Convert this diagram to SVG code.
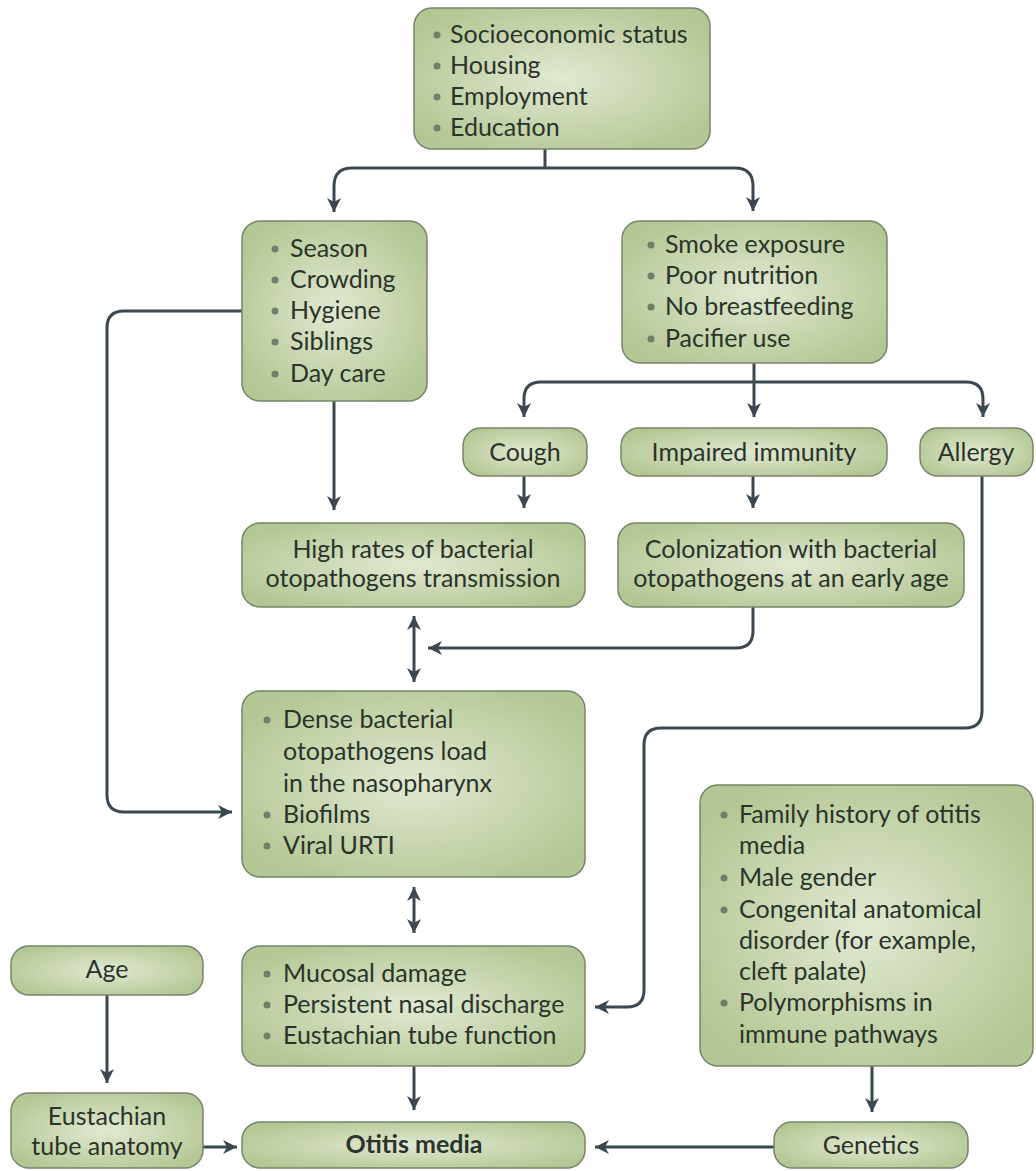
<svg xmlns="http://www.w3.org/2000/svg" width="1036" height="1171" viewBox="0 0 1036 1171">
<defs>
  <radialGradient id="g" cx="0.5" cy="0.5" r="0.6">
    <stop offset="0" stop-color="#e1e9d2"/>
    <stop offset="1" stop-color="#b4c693"/>
  </radialGradient>
  <marker id="ah" viewBox="0 0 14 14" refX="14" refY="7" markerWidth="14" markerHeight="14" markerUnits="userSpaceOnUse" orient="auto-start-reverse">
    <path d="M0,0 L14,7 L0,14 L4,7 z" fill="#3b4850"/>
  </marker>
</defs>
<style>
  .box { fill: url(#g); stroke: #74866a; stroke-width: 1.5; }
  .t { font-family: Lato, "Open Sans", "Liberation Sans", sans-serif; font-size: 25px; fill: #2a342a; }
  .c { text-anchor: middle; }
  .b { font-weight: bold; }
  .dot { fill: #6f7f69; }
  .ln { fill: none; stroke: #3b4850; stroke-width: 3; }
  .ar { marker-end: url(#ah); }
  .ar2 { marker-start: url(#ah); marker-end: url(#ah); }
</style>
<rect width="1036" height="1171" fill="#ffffff"/>

<g id="connectors">
  <path class="ln" d="M545,149 V168"/>
  <path class="ln ar" d="M545,168 H352 Q334,168 334,186 V212"/>
  <path class="ln ar" d="M545,168 H735 Q753,168 753,186 V211"/>
  <path class="ln ar" d="M754,363 V417"/>
  <path class="ln ar" d="M754,382 H541 Q524,382 524,399 V417"/>
  <path class="ln ar" d="M754,382 H966 Q983,382 983,399 V417"/>
  <path class="ln ar" d="M524,476 V508"/>
  <path class="ln ar" d="M753,476 V508"/>
  <path class="ln ar" d="M334,401 V510"/>
  <path class="ln ar2" d="M414,616 V682"/>
  <path class="ln ar" d="M753,607 V631 Q753,648 736,648 H428"/>
  <path class="ln ar" d="M242,311 H124 Q107,311 107,328 V795 Q107,812 124,812 H232"/>
  <path class="ln ar" d="M982,476 V711 Q982,728 965,728 H661 Q644,728 644,745 V990 Q644,1007 627,1007 H595"/>
  <path class="ln ar2" d="M414,887 V933"/>
  <path class="ln ar" d="M414,1066 V1110"/>
  <path class="ln ar" d="M107,995 V1083"/>
  <path class="ln ar" d="M203,1147 H237"/>
  <path class="ln ar" d="M872,1066 V1112"/>
  <path class="ln ar" d="M774,1147 H595"/>
</g>

<g id="n-socio">
  <rect class="box" x="414" y="8" width="296" height="141" rx="18"/>
  <circle class="dot" cx="437" cy="35" r="3.5"/><text class="t" x="450" y="43">Socioeconomic status</text>
  <circle class="dot" cx="437" cy="66" r="3.5"/><text class="t" x="450" y="74">Housing</text>
  <circle class="dot" cx="437" cy="97" r="3.5"/><text class="t" x="450" y="105">Employment</text>
  <circle class="dot" cx="437" cy="128" r="3.5"/><text class="t" x="450" y="136">Education</text>
</g>

<g id="n-season">
  <rect class="box" x="242" y="221" width="185" height="180" rx="18"/>
  <circle class="dot" cx="275" cy="249" r="3.5"/><text class="t" x="290" y="257">Season</text>
  <circle class="dot" cx="275" cy="280" r="3.5"/><text class="t" x="290" y="288">Crowding</text>
  <circle class="dot" cx="275" cy="311" r="3.5"/><text class="t" x="290" y="319">Hygiene</text>
  <circle class="dot" cx="275" cy="342" r="3.5"/><text class="t" x="290" y="350">Siblings</text>
  <circle class="dot" cx="275" cy="374" r="3.5"/><text class="t" x="290" y="382">Day care</text>
</g>

<g id="n-smoke">
  <rect class="box" x="622" y="221" width="265" height="142" rx="18"/>
  <circle class="dot" cx="651" cy="245" r="3.5"/><text class="t" x="665" y="253">Smoke exposure</text>
  <circle class="dot" cx="651" cy="276" r="3.5"/><text class="t" x="665" y="284">Poor nutrition</text>
  <circle class="dot" cx="651" cy="307" r="3.5"/><text class="t" x="665" y="315">No breastfeeding</text>
  <circle class="dot" cx="651" cy="339" r="3.5"/><text class="t" x="665" y="347">Pacifier use</text>
</g>

<g id="n-cough">
  <rect class="box" x="463" y="428" width="124" height="48" rx="18"/>
  <text class="t c" x="525" y="461">Cough</text>
</g>

<g id="n-immunity">
  <rect class="box" x="621" y="428" width="266" height="48" rx="18"/>
  <text class="t c" x="754" y="461">Impaired immunity</text>
</g>

<g id="n-allergy">
  <rect class="box" x="920" y="428" width="113" height="48" rx="18"/>
  <text class="t c" x="976" y="461">Allergy</text>
</g>

<g id="n-transmission">
  <rect class="box" x="242" y="523" width="343" height="84" rx="18"/>
  <text class="t c" x="413" y="558">High rates of bacterial</text>
  <text class="t c" x="413" y="587">otopathogens transmission</text>
</g>

<g id="n-colonization">
  <rect class="box" x="618" y="523" width="346" height="84" rx="18"/>
  <text class="t c" x="791" y="558">Colonization with bacterial</text>
  <text class="t c" x="791" y="587">otopathogens at an early age</text>
</g>

<g id="n-dense">
  <rect class="box" x="242" y="691" width="343" height="186" rx="18"/>
  <circle class="dot" cx="267" cy="720" r="3.5"/><text class="t" x="283" y="728">Dense bacterial</text>
  <text class="t" x="283" y="760">otopathogens load</text>
  <text class="t" x="283" y="792">in the nasopharynx</text>
  <circle class="dot" cx="267" cy="815" r="3.5"/><text class="t" x="283" y="823">Biofilms</text>
  <circle class="dot" cx="267" cy="846" r="3.5"/><text class="t" x="283" y="854">Viral URTI</text>
</g>

<g id="n-mucosal">
  <rect class="box" x="242" y="946" width="343" height="120" rx="18"/>
  <circle class="dot" cx="267" cy="974" r="3.5"/><text class="t" x="283" y="982">Mucosal damage</text>
  <circle class="dot" cx="267" cy="1005" r="3.5"/><text class="t" x="283" y="1013">Persistent nasal discharge</text>
  <circle class="dot" cx="267" cy="1036" r="3.5"/><text class="t" x="283" y="1044">Eustachian tube function</text>
</g>

<g id="n-family">
  <rect class="box" x="700" y="785" width="333" height="281" rx="18"/>
  <circle class="dot" cx="724" cy="815" r="3.5"/><text class="t" x="739" y="823">Family history of otitis</text>
  <text class="t" x="739" y="854">media</text>
  <circle class="dot" cx="724" cy="878" r="3.5"/><text class="t" x="739" y="886">Male gender</text>
  <circle class="dot" cx="724" cy="910" r="3.5"/><text class="t" x="739" y="918">Congenital anatomical</text>
  <text class="t" x="739" y="949">disorder (for example,</text>
  <text class="t" x="739" y="980">cleft palate)</text>
  <circle class="dot" cx="724" cy="1003" r="3.5"/><text class="t" x="739" y="1011">Polymorphisms in</text>
  <text class="t" x="739" y="1043">immune pathways</text>
</g>

<g id="n-age">
  <rect class="box" x="11" y="946" width="192" height="49" rx="18"/>
  <text class="t c" x="107" y="978">Age</text>
</g>

<g id="n-eustachian">
  <rect class="box" x="11" y="1093" width="192" height="75" rx="18"/>
  <text class="t c" x="107" y="1125">Eustachian</text>
  <text class="t c" x="107" y="1155">tube anatomy</text>
</g>

<g id="n-otitis">
  <rect class="box" x="242" y="1122" width="343" height="46" rx="18"/>
  <text class="t c b" x="414" y="1153">Otitis media</text>
</g>

<g id="n-genetics">
  <rect class="box" x="774" y="1122" width="194" height="46" rx="18"/>
  <text class="t c" x="871" y="1154">Genetics</text>
</g>
</svg>
